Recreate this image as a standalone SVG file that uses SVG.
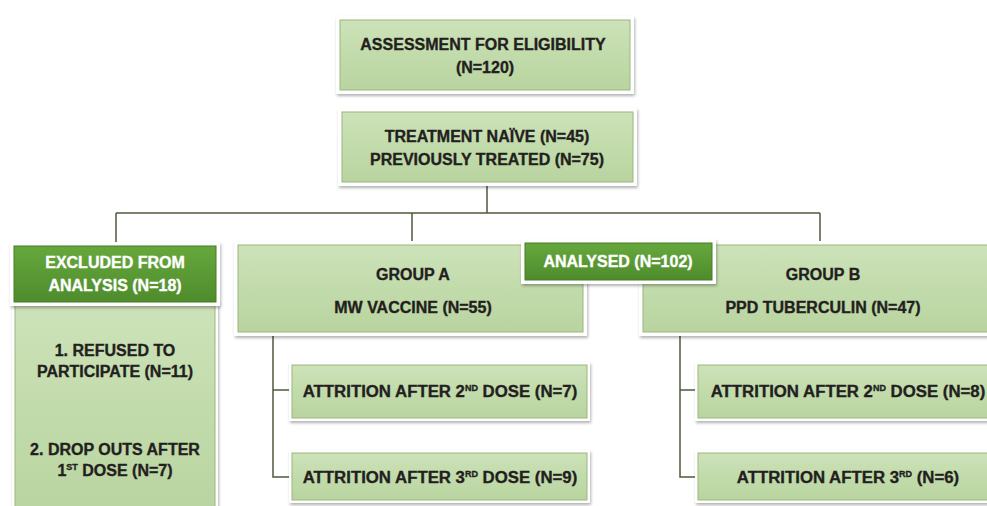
<svg xmlns="http://www.w3.org/2000/svg" width="987" height="506" viewBox="0 0 987 506">
<defs>
<linearGradient id="lg" x1="0" y1="0" x2="0" y2="1">
<stop offset="0" stop-color="#cde2b9"/>
<stop offset="0.5" stop-color="#c2dbab"/>
<stop offset="1" stop-color="#b9d4a0"/>
</linearGradient>
<linearGradient id="dg" x1="0" y1="0" x2="0" y2="1">
<stop offset="0" stop-color="#66a83d"/>
<stop offset="1" stop-color="#4e8c2c"/>
</linearGradient>
<filter id="sh" x="-10%" y="-20%" width="120%" height="150%">
<feDropShadow dx="1" dy="2" stdDeviation="1.5" flood-color="#000" flood-opacity="0.3"/>
</filter>
</defs>
<style>
.frame{fill:#ffffff;filter:url(#sh)}
.box{fill:url(#lg);stroke:#98b87c;stroke-width:1}
.dbox{fill:url(#dg);stroke:#467d27;stroke-width:1}
.t{font-family:"Liberation Sans",Arial,sans-serif;font-weight:bold;font-size:16px;fill:#231f20;stroke:#231f20;stroke-width:0.35;text-anchor:middle}
.w{fill:#ffffff;stroke:#ffffff}
.a{font-size:16.8px}
.c{fill:none;stroke:#4d5b3c;stroke-width:1.5}
.sup{font-size:9px}
</style>
<rect width="987" height="506" fill="#ffffff"/>
<g id="connectors">
<path class="c" d="M487 182 V213 M116 213 H820 M116 213 V244 M412 213 V245 M820 213 V245"/>
<path class="c" d="M273 332 V477 H292 M273 390 H292"/>
<path class="c" d="M680 332 V477 H698 M680 390 H698"/>
</g>
<g id="assessment">
<rect class="frame" x="336" y="16" width="298" height="78"/>
<rect class="box" x="340" y="20" width="290" height="70"/>
<text class="t" x="483" y="50">ASSESSMENT FOR ELIGIBILITY</text>
<text class="t" x="485" y="73">(N=120)</text>
</g>
<g id="treatment">
<rect class="frame" x="338" y="108" width="299" height="78"/>
<rect class="box" x="342" y="112" width="291" height="70"/>
<text class="t" x="487" y="142">TREATMENT NAÏVE (N=45)</text>
<text class="t" x="487" y="165">PREVIOUSLY TREATED (N=75)</text>
</g>
<g id="excluded-body">
<rect class="frame" x="12" y="302" width="206" height="210"/>
<rect class="box" x="15" y="305" width="200" height="210"/>
<text class="t" x="115" y="356">1. REFUSED TO</text>
<text class="t" x="115" y="377">PARTICIPATE (N=11)</text>
<text class="t" x="115" y="455">2. DROP OUTS AFTER</text>
<text class="t" x="115" y="476">1<tspan class="sup" dy="-6">ST</tspan><tspan dy="6"> DOSE (N=7)</tspan></text>
</g>
<g id="excluded-header">
<rect class="frame" x="10" y="242" width="210" height="64"/>
<rect class="dbox" x="14" y="246" width="202" height="56"/>
<text class="t w" x="115" y="268">EXCLUDED FROM</text>
<text class="t w" x="115" y="291">ANALYSIS (N=18)</text>
</g>
<g id="group-a">
<rect class="frame" x="234" y="241" width="353" height="95"/>
<rect class="box" x="238" y="245" width="345" height="87"/>
<text class="t" x="413" y="280">GROUP A</text>
<text class="t" x="413" y="313">MW VACCINE (N=55)</text>
</g>
<g id="group-b">
<rect class="frame" x="639" y="241" width="352" height="95"/>
<rect class="box" x="643" y="245" width="350" height="87"/>
<text class="t" x="823" y="280">GROUP B</text>
<text class="t" x="823" y="313">PPD TUBERCULIN (N=47)</text>
</g>
<g id="analysed">
<rect class="frame" x="521" y="239" width="195" height="45"/>
<rect class="dbox" x="525" y="243" width="187" height="37"/>
<text class="t w" x="618" y="267">ANALYSED (N=102)</text>
</g>
<g id="attrition-a2">
<rect class="frame" x="289" y="362" width="301" height="59"/>
<rect class="box" x="292" y="365" width="295" height="53"/>
<text class="t a" x="440" y="397">ATTRITION AFTER 2<tspan class="sup" dy="-6">ND</tspan><tspan dy="6"> DOSE (N=7)</tspan></text>
</g>
<g id="attrition-a3">
<rect class="frame" x="289" y="450" width="301" height="53"/>
<rect class="box" x="292" y="453" width="295" height="47"/>
<text class="t a" x="440" y="483">ATTRITION AFTER 3<tspan class="sup" dy="-6">RD</tspan><tspan dy="6"> DOSE (N=9)</tspan></text>
</g>
<g id="attrition-b2">
<rect class="frame" x="695" y="362" width="300" height="59"/>
<rect class="box" x="698" y="365" width="300" height="53"/>
<text class="t a" x="848" y="397">ATTRITION AFTER 2<tspan class="sup" dy="-6">ND</tspan><tspan dy="6"> DOSE (N=8)</tspan></text>
</g>
<g id="attrition-b3">
<rect class="frame" x="695" y="450" width="300" height="53"/>
<rect class="box" x="698" y="453" width="300" height="47"/>
<text class="t a" x="848" y="483">ATTRITION AFTER 3<tspan class="sup" dy="-6">RD</tspan><tspan dy="6"> (N=6)</tspan></text>
</g>
</svg>
